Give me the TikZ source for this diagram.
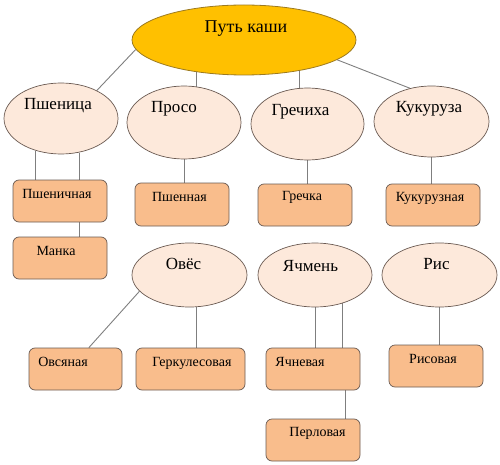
\documentclass[tikz,border=0pt]{standalone}
\usepackage{fontspec}
\setmainfont{Liberation Serif}
\usetikzlibrary{shapes.geometric,backgrounds}
\definecolor{gold}{HTML}{FFC000}
\definecolor{goldline}{HTML}{9C7A20}
\definecolor{peach}{HTML}{FDE9DB}
\definecolor{apricot}{HTML}{F9BD8C}
\definecolor{rim}{HTML}{6A5A52}
\definecolor{wire}{HTML}{7F7F7F}
\tikzset{
  head/.style={ellipse, draw=goldline, fill=gold, line width=0.8pt, inner sep=0pt},
  grain/.style={ellipse, draw=rim, fill=peach, line width=0.7pt, inner sep=0pt},
  dish/.style={rectangle, rounded corners=6pt, draw=rim, fill=apricot, line width=0.7pt, inner sep=0pt},
  tag/.style={font=\fontsize{17}{20}\selectfont, text height=0.7em, text depth=0.2em, inner sep=0pt},
  dishtag/.style={font=\fontsize{14}{16}\selectfont, text height=0.7em, text depth=0.2em, inner sep=0pt},
  wire/.style={draw=wire, line width=0.9pt}
}
\begin{document}
\begin{tikzpicture}[x=1pt,y=-1pt]
  \useasboundingbox (0,0) rectangle (500,465);
  % root
  \node[head, minimum width=224pt, minimum height=70pt,
    label={[tag, font=\fontsize{18}{21}\selectfont, xshift=2pt, yshift=10pt]center:Путь каши}] (porridge) at (244,40) {};
  % cereals
  \node[grain, minimum width=114pt, minimum height=71pt,
    label={[tag, xshift=-3pt, yshift=11pt]center:Пшеница}] (wheat) at (61,118.5) {};
  \node[grain, minimum width=114pt, minimum height=73pt,
    label={[tag, xshift=-10pt, yshift=12.5pt]center:Просо}] (millet) at (184,122.5) {};
  \node[grain, minimum width=113pt, minimum height=72pt,
    label={[tag, xshift=-7pt, yshift=11pt]center:Гречиха}] (buckwheat) at (307.5,124) {};
  \node[grain, minimum width=115pt, minimum height=71pt,
    label={[tag, xshift=-2.5pt, yshift=11.5pt]center:Кукуруза}] (corn) at (431.5,121.5) {};
  \node[grain, minimum width=115pt, minimum height=64pt,
    label={[tag, xshift=-6pt, yshift=8pt]center:Овёс}] (oats) at (189.5,275) {};
  \node[grain, minimum width=114pt, minimum height=64pt,
    label={[tag, xshift=-4.5pt, yshift=6.5pt]center:Ячмень}] (barley) at (315,275) {};
  \node[grain, minimum width=115pt, minimum height=64pt,
    label={[tag, xshift=-3pt, yshift=8pt]center:Рис}] (rice) at (439.5,275) {};
  % groats
  \node[dish, minimum width=94pt, minimum height=42pt,
    label={[dishtag, xshift=-3pt, yshift=5pt]center:Пшеничная}] (wheatgr) at (60,201) {};
  \node[dish, minimum width=94pt, minimum height=42pt,
    label={[dishtag, xshift=-4pt, yshift=5pt]center:Манка}] (semolina) at (60,258) {};
  \node[dish, minimum width=94pt, minimum height=43pt,
    label={[dishtag, xshift=-2.5pt, yshift=5.5pt]center:Пшенная}] (milletgr) at (182,204.5) {};
  \node[dish, minimum width=94pt, minimum height=42pt,
    label={[dishtag, xshift=-3pt, yshift=7pt]center:Гречка}] (buckgr) at (305,205) {};
  \node[dish, minimum width=94pt, minimum height=42pt,
    label={[dishtag, xshift=-3pt, yshift=6pt]center:Кукурузная}] (corngr) at (433,205) {};
  \node[dish, minimum width=93pt, minimum height=42pt,
    label={[dishtag, xshift=-12.5pt, yshift=5pt]center:Овсяная}] (oatgr) at (75.5,369) {};
  \node[dish, minimum width=109pt, minimum height=42pt,
    label={[dishtag, xshift=1.5pt, yshift=5pt]center:Геркулесовая}] (herkgr) at (190.5,369) {};
  \node[dish, minimum width=94pt, minimum height=42pt,
    label={[dishtag, xshift=-13pt, yshift=5pt]center:Ячневая}] (barleygr) at (313,369) {};
  \node[dish, minimum width=94pt, minimum height=42pt,
    label={[dishtag, xshift=4.5pt, yshift=6pt]center:Перловая}] (pearlgr) at (313,440) {};
  \node[dish, minimum width=94pt, minimum height=42pt,
    label={[dishtag, xshift=-3pt, yshift=5pt]center:Рисовая}] (ricegr) at (436,366) {};
  % connectors
  \begin{scope}[on background layer]
    \draw[wire] (porridge.185) -- (wheat.38);
    \draw[wire] (millet.71) -- (millet.71 |- porridge);
    \draw[wire] (buckwheat.102) -- (buckwheat.102 |- porridge);
    \draw[wire] (porridge.348) -- (corn.123);
    \draw[wire] (wheat.232) -- (wheat.232 |- wheatgr.north);
    \draw[wire] (wheat.298) -- (wheat.298 |- wheatgr.north);
    \draw[wire] (wheatgr.south -| wheat.298) -- (semolina.north -| wheat.298);
    \draw[wire] (millet.south) -- (millet.south |- milletgr.north);
    \draw[wire] (buckwheat.south) -- (buckwheat.south |- buckgr.north);
    \draw[wire] (corn.south) -- (corn.south |- corngr.north);
    \draw[wire] (oats.198) -- (oatgr.58);
    \draw[wire] (oats.282) -- (oats.282 |- herkgr.north);
    \draw[wire] (barley.south) -- (barley.south |- barleygr.north);
    \draw[wire] (barley.314) -- (barley.314 |- barleygr.north);
    \draw[wire] (barleygr.327) -- (barleygr.327 |- pearlgr.north);
    \draw[wire] (rice.south) -- (rice.south |- ricegr.north);
  \end{scope}
\end{tikzpicture}
\end{document}
